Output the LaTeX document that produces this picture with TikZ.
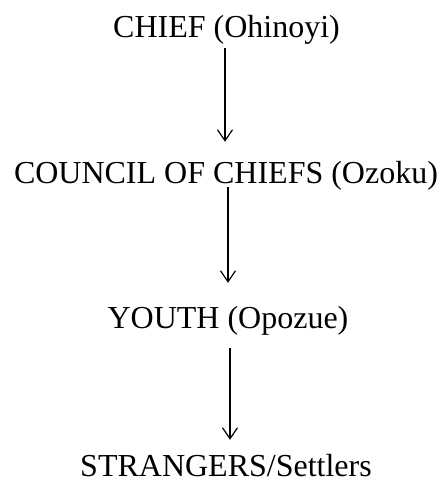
\documentclass[tikz,border=0pt]{standalone}
\usepackage{fontspec}
\setmainfont{Liberation Serif}
\usepackage{tikz}
\usetikzlibrary{arrows.meta}

\begin{document}
\begin{tikzpicture}[
  x=1pt,y=-1pt,
  font=\fontsize{32}{38}\selectfont,
  rank/.style={inner sep=0pt,anchor=base,text height=23pt,text depth=7pt},
  ar/.style={-{Straight Barb[length=11pt,width=15pt]},line width=1.2pt}
]
\useasboundingbox (0,0) rectangle (440,480);
% ranks, top to bottom
\node[rank] (chief)   at (226.5,37)  {CHIEF (Ohinoyi)};
\node[rank] (council) at (226,183)   {COUNCIL OF CHIEFS (Ozoku)};
\node[rank] (youth)   at (228,328)   {YOUTH (Opozue)};
\node[rank,text depth=1pt] (strange) at (226,476) {STRANGERS/Settlers};
% arrows
\draw[ar] ([xshift=-1.5pt,yshift=-4pt]chief.south) -- ([xshift=-1pt,yshift=18pt]council.north);
\draw[ar] ([xshift=2pt,yshift=3pt]council.south) -- ([xshift=0pt,yshift=22pt]youth.north);
\draw[ar] ([xshift=2pt,yshift=-13pt]youth.south) -- ([xshift=4pt,yshift=13pt]strange.north);
\end{tikzpicture}
\end{document}
